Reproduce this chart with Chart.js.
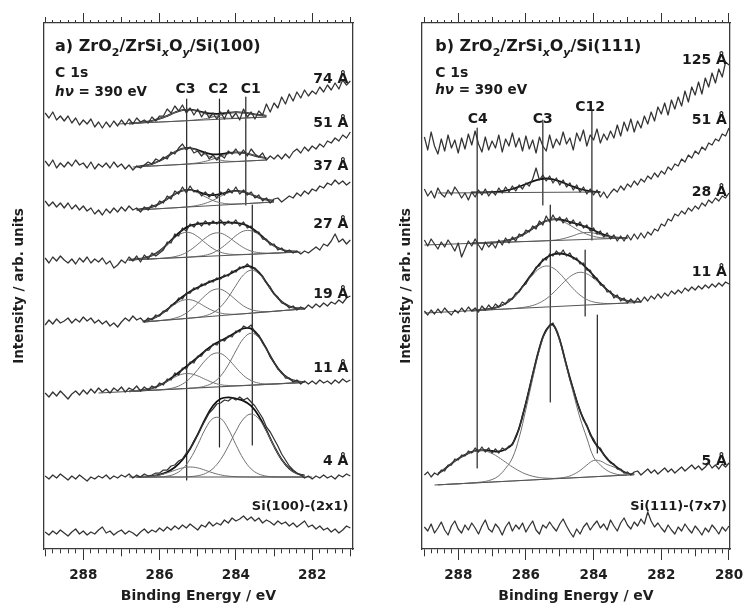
<!DOCTYPE html>
<html>
<head>
<meta charset="utf-8">
<title>C 1s spectra</title>
<script src="https://cdn.jsdelivr.net/npm/chart.js@4.4.1/dist/chart.umd.min.js"></script>
<style>
  html, body { margin: 0; padding: 0; background: #fff; }
  #wrap { position: relative; width: 744px; height: 603px; }
  canvas { position: absolute; top: 0; }
</style>
</head>
<body>
<div id="wrap">
  <canvas id="panelA" width="372" height="603" style="left:0"></canvas>
  <canvas id="panelB" width="372" height="603" style="left:372px"></canvas>
</div>
<script>
// binding energy grids (eV), one point every 0.1 eV
const energyA = [289.0,288.9,288.8,288.7,288.6,288.5,288.4,288.3,288.2,288.1,
  288.0,287.9,287.8,287.7,287.6,287.5,287.4,287.3,287.2,287.1,
  287.0,286.9,286.8,286.7,286.6,286.5,286.4,286.3,286.2,286.1,
  286.0,285.9,285.8,285.7,285.6,285.5,285.4,285.3,285.2,285.1,
  285.0,284.9,284.8,284.7,284.6,284.5,284.4,284.3,284.2,284.1,
  284.0,283.9,283.8,283.7,283.6,283.5,283.4,283.3,283.2,283.1,
  283.0,282.9,282.8,282.7,282.6,282.5,282.4,282.3,282.2,282.1,
  282.0,281.9,281.8,281.7,281.6,281.5,281.4,281.3,281.2,281.1,281.0];
const energyB = energyA.concat([280.9,280.8,280.7,280.6,280.5,280.4,280.3,280.2,280.1,280.0]);

// a) ZrO2/ZrSixOy/Si(100), raw C 1s spectra (arb. units, offset for stacking)
const a74Raw = [436,431,437,429,433,428,433,426,431,424, 429,425,430,422,427,421,427,422,428,423,
  429,424,430,425,431,427,429,426,432,428, 433,433,440,436,443,438,444,436,441,434,
  440,432,438,431,436,430,437,430,439,431, 436,429,440,432,437,430,438,434,445,437,
  446,441,452,445,455,448,457,451,459,453, 458,455,462,457,464,459,466,460,469,464, 468];
const a51Raw = [388,383,389,381,386,382,387,383,389,384, 386,381,387,380,385,382,386,381,387,382,
  385,380,384,379,383,381,384,387,385,390, 388,392,390,397,395,401,405,399,402,396,
  398,393,397,390,394,389,394,391,398,395, 400,394,399,393,400,395,392,396,389,393,
  390,394,390,395,391,397,400,396,402,398, 403,400,405,402,408,406,411,408,414,411, 417];
const a37Raw = [348,343,347,342,346,341,346,340,344,339, 343,338,341,335,339,334,340,336,341,337,
  342,338,343,339,341,337,342,339,344,342, 348,346,353,350,358,355,362,356,363,357,
  359,353,357,352,356,351,357,354,360,356, 362,355,359,354,357,351,354,348,351,346,
  350,351,347,350,353,351,356,353,358,355, 360,358,363,361,366,364,369,365,368,364, 367];
const a27Raw = [291,286,292,288,293,289,286,290,285,291, 287,292,286,290,287,291,285,288,281,284,
  289,286,292,288,293,287,294,290,296,293, 296,299,307,306,315,313,321,318,325,322,
  327,323,328,324,328,325,329,324,328,325, 329,323,327,321,323,317,317,310,310,304,
  305,299,301,297,299,296,298,295,298,296, 299,302,299,305,303,308,315,307,310,305, 309];
const a19Raw = [224,229,225,230,226,228,231,226,230,227, 232,228,231,226,229,225,228,223,226,222,
  227,231,228,233,229,231,227,231,229,234, 233,238,238,244,245,251,250,256,256,261,
  260,265,264,268,267,271,270,274,273,278, 277,282,281,285,281,281,276,273,266,262,
  255,252,246,245,241,243,239,242,240,244, 241,245,242,246,243,247,245,249,246,251, 253];
const a11Raw = [156,152,157,153,158,154,150,155,158,154, 159,155,160,156,161,157,160,156,161,158,
  162,157,161,159,163,158,162,159,163,161, 166,164,170,169,176,174,181,180,187,186,
  193,193,199,199,205,204,209,208,213,212, 218,217,223,221,224,216,214,206,201,192,
  187,180,177,171,171,167,169,165,168,165, 168,165,169,166,168,165,169,166,170,167, 169];
const a4Raw = [73,70,74,71,75,72,69,73,70,74, 71,68,72,70,73,71,74,70,73,71,
  74,72,75,71,74,72,75,73,74,76, 76,79,79,83,84,88,90,96,100,108,
  114,122,129,136,140,145,146,149,148,151, 149,152,149,151,147,143,137,131,122,117,
  110,103,95,89,83,79,76,74,71,73, 70,73,71,74,71,73,70,74,72,75, 73];
const aSiRaw = [17,14,18,15,19,16,13,17,20,15, 18,14,17,15,19,22,16,18,14,17,
  19,15,18,16,13,17,20,16,19,17, 21,18,22,19,23,20,24,21,25,22,
  19,24,22,27,23,26,24,29,26,31, 28,30,33,29,32,28,31,26,29,27,
  24,28,25,27,23,26,22,25,28,22, 24,20,23,19,21,17,20,16,19,23, 21];

// a) peak fits: energy grid, components C3/C2/C1, envelope, linear background
const a74FitE = [286.8,286.6,286.4,286.2,286.0,285.8,285.6,285.4,285.2,285.0,284.8,284.6,284.4,284.2,284.0,283.8,283.6,283.4,283.2];
const a74C3 = [425.5,426.1,426.9,428.1,430.3,433.2,436.5,438.7,439.1,437.6,435.0,432.8,431.3,430.8,430.8,430.9,431.3,431.6,432.0];
const a74C1 = [425.5,425.9,426.3,426.6,427.0,427.3,427.7,428.1,428.6,429.3,430.3,432.0,433.8,435.6,436.6,436.3,435.3,434.1,433.2];
const a74Env = [425.5,426.1,426.9,428.1,430.3,433.2,436.5,438.8,439.3,438.1,436.2,435.3,435.3,436.2,436.8,436.3,435.3,434.1,433.2];
const a74BgE = [287.1, 283.2], a74BgV = [425, 432];

const a51FitE = [286.6,286.4,286.2,286.0,285.8,285.6,285.4,285.2,285.0,284.8,284.6,284.4,284.2,284.0,283.8,283.6,283.4,283.2];
const a51C3 = [382.4,383.4,385.2,388.2,392.4,397.0,400.2,400.6,398.2,394.4,391.0,388.8,387.8,387.6,387.9,388.2,388.6,389.0];
const a51C1 = [382.2,382.6,383.0,383.4,383.8,384.2,384.7,385.3,386.2,387.7,389.9,392.7,395.2,396.4,396.0,394.3,392.3,390.9];
const a51Env = [382.4,383.4,385.2,388.2,392.4,397.0,400.3,400.9,399.0,396.3,394.7,394.9,396.0,396.6,396.1,394.3,392.3,390.9];
const a51BgE = [286.7, 283.2], a51BgV = [382, 389];

const a37FitE = [286.6,286.4,286.2,286.0,285.8,285.6,285.4,285.2,285.0,284.8,284.6,284.4,284.2,284.0,283.8,283.6,283.4,283.2,283.0];
const a37C3 = [339.3,340.3,342.2,345.4,350.0,354.8,358.3,358.7,356.2,352.2,348.5,346.2,345.2,345.1,345.3,345.7,346.1,346.6,347.0];
const a37C1 = [339.0,339.4,339.9,340.3,340.8,341.2,341.8,342.5,343.7,345.7,348.7,352.7,356.1,357.8,357.0,354.5,351.4,349.3,348.1];
const a37Env = [339.3,340.3,342.2,345.4,350.0,354.8,358.4,359.1,357.3,354.9,353.8,355.0,357.0,358.1,357.1,354.5,351.4,349.3,348.1];
const a37BgE = [286.6, 283.0], a37BgV = [339, 347];

const a27FitE = [286.8,286.6,286.4,286.2,286.0,285.8,285.6,285.4,285.2,285.0,284.8,284.6,284.4,284.2,284.0,283.8,283.6,283.4,283.2,283.0,282.8,282.6,282.4];
const a27C3 = [289.1,289.8,291.0,293.5,298.0,304.3,311.2,315.9,316.3,312.3,306.1,300.5,296.8,295.0,294.5,294.6,294.8,295.2,295.5,295.9,296.3,296.6,297.0];
const a27C2 = [289.0,289.4,289.7,290.1,290.6,291.2,292.4,294.6,298.8,304.7,311.0,315.4,315.8,312.1,306.5,301.4,297.9,296.4,295.9,296.0,296.3,296.6,297.0];
const a27C1 = [289.0,289.4,289.7,290.1,290.5,290.8,291.2,291.5,292.0,292.7,293.8,296.2,300.6,306.6,313.3,317.9,318.2,314.4,308.4,303.1,299.5,297.8,297.4];
const a27Env = [289.1,289.8,291.0,293.5,298.1,304.7,312.4,319.0,323.3,325.1,325.7,326.1,326.4,326.3,326.1,324.9,321.3,315.6,308.8,303.2,299.5,297.8,297.4];
const a27BgE = [286.85, 282.3], a27BgV = [289, 297];

const a19FitE = [286.4,286.2,286.0,285.8,285.6,285.4,285.2,285.0,284.8,284.6,284.4,284.2,284.0,283.8,283.6,283.4,283.2,283.0,282.8,282.6,282.4,282.2];
const a19C3 = [228.0,230.2,234.0,239.1,244.7,248.6,249.3,246.6,242.2,238.3,235.9,234.9,234.8,235.2,235.8,236.4,237.0,237.6,238.3,238.9,239.5,240.1];
const a19C2 = [227.0,227.6,228.4,229.3,230.9,233.7,238.8,246.0,253.6,259.0,259.7,255.5,249.1,243.1,239.4,237.8,237.4,237.7,238.3,238.9,239.5,240.1];
const a19C1 = [227.0,227.6,228.3,228.9,229.5,230.1,230.9,231.7,233.3,236.3,242.2,251.6,263.5,274.1,278.8,275.4,266.0,255.3,247.2,242.6,240.8,240.4];
const a19Env = [228.0,230.2,234.1,239.5,246.1,252.2,257.4,261.5,265.1,268.4,271.2,274.2,278.4,282.2,282.4,276.8,266.4,255.4,247.2,242.6,240.8,240.4];
const a19BgE = [286.45, 282.2], a19BgV = [227, 240.2];

const a11FitE = [286.8,286.6,286.4,286.2,286.0,285.8,285.6,285.4,285.2,285.0,284.8,284.6,284.4,284.2,284.0,283.8,283.6,283.4,283.2,283.0,282.8,282.6,282.4,282.2];
const a11C3 = [157.7,158.2,159.2,160.7,163.6,167.6,171.9,174.9,175.3,173.1,169.6,166.4,164.3,163.5,163.3,163.5,163.8,164.2,164.6,165.0,165.4,165.8,166.2,166.6];
const a11C2 = [157.6,158.0,158.4,158.7,159.2,160.0,161.6,164.9,170.8,179.4,188.7,195.1,195.5,189.9,181.4,173.5,168.4,165.9,165.1,165.1,165.4,165.8,166.2,166.6];
const a11C1 = [157.6,158.0,158.4,158.7,159.1,159.5,159.9,160.3,160.8,161.5,163.0,166.3,173.0,184.1,198.1,210.5,215.8,211.3,199.6,186.4,176.1,170.2,167.7,167.0];
const a11Env = [157.7,158.2,159.2,160.7,163.7,168.1,173.6,179.5,185.5,191.8,198.3,204.0,208.2,212.1,216.6,220.7,220.4,213.0,200.1,186.5,176.1,170.2,167.7,167.0];
const a11BgE = [287.6, 282.3], a11BgV = [156, 166.4];

const a4FitE = [286.6,286.4,286.2,286.0,285.8,285.6,285.4,285.2,285.0,284.8,284.6,284.4,284.2,284.0,283.8,283.6,283.4,283.2,283.0,282.8,282.6,282.4,282.2];
const a4C3 = [72.1,72.3,72.9,74.1,76.1,78.7,81.1,82.0,81.1,78.7,76.1,74.1,72.9,72.3,72.1,72,72,72,72,72,72,72,72];
const a4C2 = [72,72,72,72.2,72.9,75.0,80.1,89.9,104.3,120.1,130.6,130.6,120.1,104.3,89.9,80.1,75.0,72.9,72.2,72,72,72,72];
const a4C1 = [72,72,72,72,72,72,72,72.4,73.3,75.5,80.5,89.5,102.7,117.7,130.1,135.0,130.1,117.7,102.7,89.5,80.5,75.5,73.3];
const a4Env = [72.1,72.3,72.9,74.3,77.0,81.7,89.2,100.3,114.7,130.3,143.2,150.2,151.7,150.3,148.1,143.1,133.1,118.6,102.9,89.5,80.5,75.5,73.3];
const a4BgE = [286.8, 282.0], a4BgV = [72, 72];

// b) ZrO2/ZrSixOy/Si(111), raw C 1s spectra
const b125Raw = [412,399,417,403,395,410,398,414,401,409,396, 411,400,415,404,418,405,397,412,399,408,
  401,414,397,410,403,416,402,411,398,413, 400,409,396,412,403,398,414,401,410,404,
  417,405,411,399,416,408,419,403,414,409, 420,406,415,409,418,411,424,413,427,418,
  430,417,428,421,433,425,437,428,442,435, 446,434,449,440,452,443,458,447,462,454,
  467,455,471,462,476,466,480,472,487,484];
const b51Raw = [360,353,358,351,361,355,352,359,354,362,357, 351,356,349,357,352,359,354,360,353,358,
  354,361,356,362,357,363,358,364,360,366, 363,370,381,369,374,368,373,366,371,364,
  369,362,366,359,364,357,362,355,360,354, 359,352,357,351,356,360,357,363,359,365,
  362,368,364,370,367,373,370,376,372,378, 375,382,379,385,383,390,387,394,391,398,
  395,402,399,406,404,410,408,415,413,421];
const b28Raw = [309,303,310,305,300,307,302,309,304,298,306, 292,300,308,303,310,304,299,307,302,306,
  301,309,304,311,306,312,308,315,313,319, 317,323,320,328,324,333,327,334,328,332,
  326,331,325,329,323,327,321,324,318,321, 315,318,312,316,310,314,308,313,308,314,
  309,315,310,316,311,317,314,320,318,325, 323,330,328,335,333,338,335,341,338,343,
  340,346,343,349,346,351,348,353,351,356];
const b11Raw = [238,234,239,235,240,236,241,237,234,239,236, 241,237,242,238,241,237,243,239,244,240,
  245,242,247,245,250,250,256,257,263,265, 272,275,282,283,290,289,295,293,298,294,
  299,293,296,290,291,285,286,279,279,271, 271,264,264,257,258,251,254,248,251,246,
  250,246,251,247,252,248,253,250,255,251, 256,253,258,255,259,256,261,258,262,259,
  263,260,264,261,265,262,266,263,267,265];
const b5Raw = [74,77,72,76,74,79,78,84,84,90,89, 94,93,98,96,101,97,102,97,101,96,
  100,96,101,99,103,104,113,120,134,146, 160,175,188,201,212,218,224,226,218,210,
  196,184,170,160,148,139,129,124,114,110, 102,101,94,91,86,85,80,80,76,77,
  74,77,78,74,77,80,76,79,75,78, 81,77,80,76,79,82,78,81,84,80,
  83,79,82,86,81,84,80,85,82,86];
const bSiRaw = [22,18,25,16,21,27,19,14,23,28,20, 16,24,19,26,21,15,23,29,20,17,
  25,21,14,22,27,18,24,20,26,17, 23,28,19,15,24,21,27,22,18,25,
  30,23,17,12,20,15,22,26,19,24, 28,21,25,19,29,23,18,26,31,24,
  20,27,23,30,25,37,28,22,26,21, 17,24,19,15,22,18,25,20,16,23,
  19,14,21,17,24,20,15,22,18,23];

// b) peak fits
const b51FitE = [287.6,287.4,287.2,287.0,286.8,286.6,286.4,286.2,286.0,285.8,285.6,285.4,285.2,285.0,284.8,284.6,284.4,284.2,284.0,283.8];
const b51Env = [356.5,356.6,356.7,356.9,357.4,358.4,360.0,362.3,365.0,367.7,369.7,370.5,369.7,367.7,365.0,362.3,360.0,358.4,357.4,356.9];
const b51BgE = [288.6, 283.8], b51BgV = [356, 357];

const b28FitE = [287.6,287.4,287.2,287.0,286.8,286.6,286.4,286.2,286.0,285.8,285.6,285.4,285.2,285.0,284.8,284.6,284.4,284.2,284.0,283.8,283.6,283.4,283.2,283.0];
const b28C3 = [305.6,305.9,306.2,306.5,307.2,308.2,309.8,312.5,316.1,320.4,324.8,328.1,329.4,328.6,325.7,321.8,318.0,314.8,312.6,311.4,310.9,310.7,310.8,311.0];
const b28C12 = [305.6,305.9,306.1,306.3,306.6,306.8,307.0,307.3,307.5,307.7,308.0,308.3,308.7,309.6,311.2,313.3,315.6,316.6,316.0,314.2,312.6,311.5,311.0,311.1];
const b28Env = [305.6,305.9,306.2,306.5,307.2,308.2,309.8,312.5,316.1,320.4,324.8,328.2,329.7,329.6,328.0,326.0,324.2,321.8,318.8,315.6,313.2,311.7,311.1,311.1];
const b28BgE = [289.0, 283.0], b28BgV = [304, 311];

const b11FitE = [287.6,287.4,287.2,287.0,286.8,286.6,286.4,286.2,286.0,285.8,285.6,285.4,285.2,285.0,284.8,284.6,284.4,284.2,284.0,283.8,283.6,283.4,283.2,283.0,282.8,282.6];
const b11C3 = [238.4,238.9,239.5,240.5,242.4,245.5,250.5,257.6,265.9,274.1,280.5,283.0,281.1,275.5,267.9,260.2,253.9,249.5,247.0,245.9,245.5,245.5,245.8,246.0,246.3,246.7];
const b11C12 = [238.3,238.7,239.0,239.3,239.7,240.0,240.4,241.1,242.0,243.5,246.2,250.2,255.9,262.7,269.4,274.5,276.7,275.2,270.7,264.7,258.6,253.5,250.2,248.2,247.3,247.1];
const b11Env = [238.4,238.9,239.5,240.5,242.4,245.5,250.6,258.0,266.9,276.3,285.0,291.2,294.7,295.5,294.3,291.4,286.9,280.7,273.4,265.9,259.1,253.7,250.3,248.2,247.3,247.1];
const b11BgE = [289.0, 283.0], b11BgV = [236, 246];

const b5FitE = [288.6,288.4,288.2,288.0,287.8,287.6,287.4,287.2,287.0,286.8,286.6,286.4,286.2,286.0,285.8,285.6,285.4,285.2,285.0,284.8,284.6,284.4,284.2,284.0,283.8,283.6,283.4,283.2,283.0,282.8];
const b5C4 = [75.2,80.0,85.4,90.2,94.1,96.9,98.2,97.9,95.5,91.5,86.8,82.1,78.1,74.9,72.8,71.4,70.9,70.6,70.7,70.8,71.2,71.5,71.9,72.2,72.6,72.9,73.3,73.6,74.0,74.3];
const b5C3 = [64.2,64.5,64.9,65.2,65.6,66.1,66.7,67.6,69.5,73.3,80.7,90.9,111.3,139.8,170.3,199.0,217.9,223.2,208.3,182,156,131,111,92,84,78.5,75.5,74.2,74.0,74.3];
const b5C12 = [64.2,64.5,64.9,65.2,65.6,65.9,66.3,66.6,67.0,67.3,67.7,68.0,68.4,68.7,69.1,69.4,69.8,70.4,71.0,72.0,74.5,78.5,84.0,88.5,88.0,84.5,82.0,78.5,75.5,74.6];
const b5Env = [75.2,80.0,85.4,90.2,94.1,97.1,98.6,98.9,98.0,97.5,99.8,105.0,121.0,146.0,174.0,201.0,219.0,224.0,209.0,183.2,159.3,138.0,123.1,108.3,99.4,90.1,84.2,79.1,75.5,74.6];
const b5BgE = [288.7, 283.0], b5BgV = [64, 74];

// peak position markers: energy, top and bottom intensity
const markAE = [285.29, 284.43, 283.74, 283.57];
const markATop = [450, 450, 452, 344];
const markABot = [69, 102, 344, 104];
const markBE = [287.44, 285.5, 285.28, 284.05, 284.25, 283.89];
const markBTop = [421, 429, 344, 439, 299, 234];
const markBBot = [81, 344, 147, 309, 233, 96];

// labels
const thickA = ['74 Å', '51 Å', '37 Å', '27 Å', '19 Å', '11 Å', '4 Å', 'Si(100)-(2x1)'];
const thickAV = [466, 422, 379, 321, 251, 177, 84, 39];
const thickB = ['125 Å', '51 Å', '28 Å', '11 Å', '5 Å', 'Si(111)-(7x7)'];
const thickBV = [485, 425, 353, 273, 84, 39];
const peakA = ['C3', 'C2', 'C1'], peakAE = [285.32, 284.46, 283.61];
const peakB = ['C4', 'C3', 'C12'], peakBE = [287.42, 285.5, 284.1], peakBV = [426, 426, 438];

Chart.defaults.font.family = '"DejaVu Sans", sans-serif';
Chart.defaults.color = '#1e1e1e';

const RAW = { borderColor: '#333', borderWidth: 1.25, tension: 0 };
const COMP = { borderColor: '#707070', borderWidth: 1, tension: 0.4 };
const ENV = { borderColor: '#111', borderWidth: 1.8, tension: 0.4 };
const BG = { borderColor: '#555', borderWidth: 1.1, tension: 0 };
const MARK = { borderColor: '#222', borderWidth: 1.2, tension: 0 };

function line(xs, ys, style) {
  return Object.assign({
    data: xs.map((x, i) => ({ x: x, y: ys[i] })),
    pointRadius: 0,
    borderJoinStyle: 'round',
    fill: false
  }, style);
}

function markers(es, tops, bots) {
  return es.map((e, i) => line([e, e], [tops[i], bots[i]], MARK));
}

function fit(gridE, comps, env, bgE, bgV) {
  return [line(bgE, bgV, BG)]
    .concat(comps.map(c => line(gridE, c, COMP)))
    .concat([line(gridE, env, ENV)]);
}

// major ticks every 2 eV, mid ticks at odd eV, minor every 0.2 eV
function tickKind(ctx) {
  if (!ctx.tick) return 'minor';
  const k = Math.round(ctx.tick.value * 5);
  return k % 10 === 0 ? 'major' : (k % 5 === 0 ? 'mid' : 'minor');
}
const bottomDash = ctx => ({ major: [], mid: [7, 30], minor: [4, 30] })[tickKind(ctx)];
const topDash = ctx => ({ major: [], mid: [0, 4, 6, 30], minor: [0, 7, 3, 30] })[tickKind(ctx)];

function fontFor(kind, size) {
  const sub = kind.indexOf('s') >= 0;
  const it = kind.indexOf('i') >= 0;
  return (it ? 'italic ' : '') + 'bold ' + (sub ? Math.round(size * 0.7) : size) + 'px "DejaVu Sans"';
}

function drawRich(ctx, parts, x, y, size, align) {
  let w = 0;
  parts.forEach(p => { ctx.font = fontFor(p[1], size); w += ctx.measureText(p[0]).width; });
  let cx = align === 'right' ? x - w : (align === 'center' ? x - w / 2 : x);
  parts.forEach(p => {
    ctx.font = fontFor(p[1], size);
    ctx.fillText(p[0], cx, y + (p[1].indexOf('s') >= 0 ? size * 0.3 : 0));
    cx += ctx.measureText(p[0]).width;
  });
}

const panelText = {
  id: 'panelText',
  afterDatasetsDraw(chart, args, opts) {
    const ctx = chart.ctx;
    const sx = chart.scales.x, sy = chart.scales.y;
    ctx.save();
    ctx.fillStyle = '#1a1a1a';
    ctx.textBaseline = 'alphabetic';
    opts.items.forEach(it => {
      drawRich(ctx, it.parts, sx.getPixelForValue(it.e), sy.getPixelForValue(it.v), it.size, it.align);
    });
    ctx.restore();
  }
};

function buildPanel(id, cfg) {
  const axisBorder = { color: '#3a3a3a', width: 1.3 };
  return new Chart(document.getElementById(id), {
    type: 'line',
    data: { datasets: cfg.datasets },
    options: {
      responsive: false,
      animation: false,
      devicePixelRatio: 1,
      layout: { padding: 0 },
      plugins: {
        legend: { display: false },
        tooltip: { enabled: false },
        panelText: { items: cfg.texts }
      },
      scales: {
        x: {
          type: 'linear', position: 'bottom', reverse: true, min: cfg.min, max: cfg.max,
          border: axisBorder,
          grid: { drawOnChartArea: false, tickLength: 11, tickColor: '#333', tickBorderDash: bottomDash },
          ticks: {
            stepSize: 0.2, includeBounds: false, autoSkip: false, maxRotation: 0, padding: 7,
            color: '#1e1e1e', font: { size: 13.5, weight: 'bold' },
            callback: v => (Math.round(v * 5) % 10 === 0 ? String(Math.round(v)) : '')
          },
          title: {
            display: true, text: 'Binding Energy / eV', color: '#1e1e1e',
            font: { size: 14, weight: 'bold', lineHeight: 1 }, padding: { top: 0, bottom: 0 }
          },
          afterFit: s => { s.height = 54; s.paddingLeft = 0; s.paddingRight = 0; }
        },
        xTop: {
          axis: 'x', type: 'linear', position: 'top', reverse: true, min: cfg.min, max: cfg.max,
          border: axisBorder,
          grid: { drawOnChartArea: false, tickLength: 10, tickColor: '#333', tickBorderDash: topDash },
          ticks: { stepSize: 0.2, includeBounds: false, autoSkip: false, display: false },
          afterFit: s => { s.height = 23; s.paddingLeft = 0; s.paddingRight = 0; }
        },
        y: {
          type: 'linear', position: 'left', min: 0, max: 526,
          border: axisBorder,
          grid: { display: false },
          ticks: { display: false },
          title: {
            display: true, text: 'Intensity / arb. units', color: '#1e1e1e',
            font: { size: 13.5, weight: 'bold', lineHeight: 1.2 }, padding: { top: cfg.titlePad, bottom: 0 }
          },
          afterFit: s => { s.width = cfg.leftW; }
        },
        yRight: {
          axis: 'y', type: 'linear', position: 'right', min: 0, max: 526,
          border: axisBorder,
          grid: { display: false },
          ticks: { display: false },
          afterFit: s => { s.width = cfg.rightW; }
        }
      }
    },
    plugins: [panelText]
  });
}

// ---- panel a ----
const dsA = [a74Raw, a51Raw, a37Raw, a27Raw, a19Raw, a11Raw, a4Raw, aSiRaw].map(v => line(energyA, v, RAW))
  .concat(fit(a74FitE, [a74C3, a74C1], a74Env, a74BgE, a74BgV))
  .concat(fit(a51FitE, [a51C3, a51C1], a51Env, a51BgE, a51BgV))
  .concat(fit(a37FitE, [a37C3, a37C1], a37Env, a37BgE, a37BgV))
  .concat(fit(a27FitE, [a27C3, a27C2, a27C1], a27Env, a27BgE, a27BgV))
  .concat(fit(a19FitE, [a19C3, a19C2, a19C1], a19Env, a19BgE, a19BgV))
  .concat(fit(a11FitE, [a11C3, a11C2, a11C1], a11Env, a11BgE, a11BgV))
  .concat(fit(a4FitE, [a4C3, a4C2, a4C1], a4Env, a4BgE, a4BgV))
  .concat(markers(markAE, markATop, markABot));

const textA = [
  { e: 288.74, v: 498, size: 16, align: 'left',
    parts: [['a) ZrO', ''], ['2', 's'], ['/ZrSi', ''], ['x', 'si'], ['O', ''], ['y', 'si'], ['/Si(100)', '']] },
  { e: 288.74, v: 472, size: 14, align: 'left', parts: [['C 1s', '']] },
  { e: 288.74, v: 453, size: 13.5, align: 'left', parts: [['hν', 'i'], [' = 390 eV', '']] }
].concat(peakA.map((t, i) => ({ e: peakAE[i], v: 456, size: 14, align: 'center', parts: [[t, '']] })))
 .concat(thickA.map((t, i) => ({ e: 281.05, v: thickAV[i], size: t.length > 6 ? 13 : 14, align: 'right', parts: [[t, '']] })));

buildPanel('panelA', { datasets: dsA, texts: textA, min: 280.93, max: 289.03, leftW: 44, rightW: 19, titlePad: 11.4 });

// ---- panel b ----
const dsB = [b125Raw, b51Raw, b28Raw, b11Raw, b5Raw, bSiRaw].map(v => line(energyB, v, RAW))
  .concat(fit(b51FitE, [], b51Env, b51BgE, b51BgV))
  .concat(fit(b28FitE, [b28C3, b28C12], b28Env, b28BgE, b28BgV))
  .concat(fit(b11FitE, [b11C3, b11C12], b11Env, b11BgE, b11BgV))
  .concat(fit(b5FitE, [b5C4, b5C3, b5C12], b5Env, b5BgE, b5BgV))
  .concat(markers(markBE, markBTop, markBBot));

const textB = [
  { e: 288.68, v: 498, size: 16, align: 'left',
    parts: [['b) ZrO', ''], ['2', 's'], ['/ZrSi', ''], ['x', 'si'], ['O', ''], ['y', 'si'], ['/Si(111)', '']] },
  { e: 288.68, v: 472, size: 14, align: 'left', parts: [['C 1s', '']] },
  { e: 288.68, v: 455, size: 13.5, align: 'left', parts: [['hν', 'i'], [' = 390 eV', '']] }
].concat(peakB.map((t, i) => ({ e: peakBE[i], v: peakBV[i], size: 14, align: 'center', parts: [[t, '']] })))
 .concat(thickB.map((t, i) => ({ e: 280.06, v: thickBV[i], size: t.length > 6 ? 13 : 14, align: 'right', parts: [[t, '']] })));

buildPanel('panelB', { datasets: dsB, texts: textB, min: 279.97, max: 289.07, leftW: 50, rightW: 14, titlePad: 25.9 });
</script>
</body>
</html>
